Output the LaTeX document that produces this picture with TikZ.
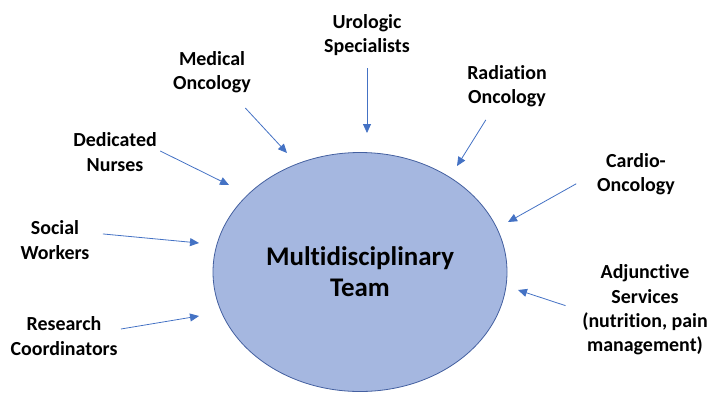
\documentclass[tikz,border=0pt]{standalone}
\usepackage{fontspec}
\setmainfont[Ligatures=NoCommon]{Carlito}
\usetikzlibrary{positioning,arrows.meta,shapes,calc}
\definecolor{teamfill}{RGB}{165,183,224}
\definecolor{teamline}{RGB}{68,96,160}
\definecolor{arrblue}{RGB}{68,114,196}
\tikzset{
  lbl/.style={align=center, font=\bfseries\fontsize{20}{24.5}\selectfont},
  arr/.style={draw=arrblue, line width=0.8bp, -{Triangle[length=9bp,width=8bp]}}
}

\begin{document}
\begin{tikzpicture}[x=1bp,y=-1bp]
    \useasboundingbox (0,0) rectangle (710,393);
    \node[ellipse, draw=teamline, line width=0.8bp, fill=teamfill, minimum width=294bp, minimum height=239bp, align=center, font=\bfseries\fontsize{27}{31}\selectfont] (team) at (360,272) {Multidisciplinary\\Team};
    \node[lbl] (urol)   at (367,35)  {Urologic\\Specialists};
    \node[lbl] (medonc) at (212,72)  {Medical\\Oncology};
    \node[lbl] (nurses) at (115,152) {Dedicated\\Nurses};
    \node[lbl] (radonc) at (507,86)  {Radiation\\Oncology};
    \node[lbl] (cardio) at (636,174) {Cardio-\\Oncology};
    \node[lbl] (social) at (55,240)  {Social\\Workers};
    \node[lbl] (resco)  at (64,336)  {Research\\Coordinators};
    \node[lbl] (adjsrv) at (645,310) {Adjunctive\\Services\\(nutrition, pain\\management)};
    \coordinate (t-urol)   at (367,133);
    \coordinate (t-medonc) at (287,153);
    \coordinate (t-nurses) at (229,185);
    \coordinate (t-radonc) at (457,166);
    \coordinate (t-cardio) at (508,222);
    \coordinate (t-social) at (199,243);
    \coordinate (t-resco)  at (199,316);
    \coordinate (t-adjsrv) at (518,290);
    \draw[arr, shorten <=33bp] (urol.center) -- (t-urol);
    \draw[arr, shorten <=49bp] (medonc.center) -- (t-medonc);
    \draw[arr] ([yshift=1bp]nurses.east) -- (t-nurses);
    \draw[arr, shorten <=40bp] (radonc.center) -- (t-radonc);
    \draw[arr, shorten <=20bp] (cardio.west) -- (t-cardio);
    \draw[arr, shorten <=10bp] ([yshift=7bp]social.east) -- (t-social);
    \draw[arr] ([yshift=7bp]resco.east) -- (t-resco);
    \draw[arr, shorten <=14bp] (adjsrv.west) -- (t-adjsrv);
  \end{tikzpicture}
\end{document}
